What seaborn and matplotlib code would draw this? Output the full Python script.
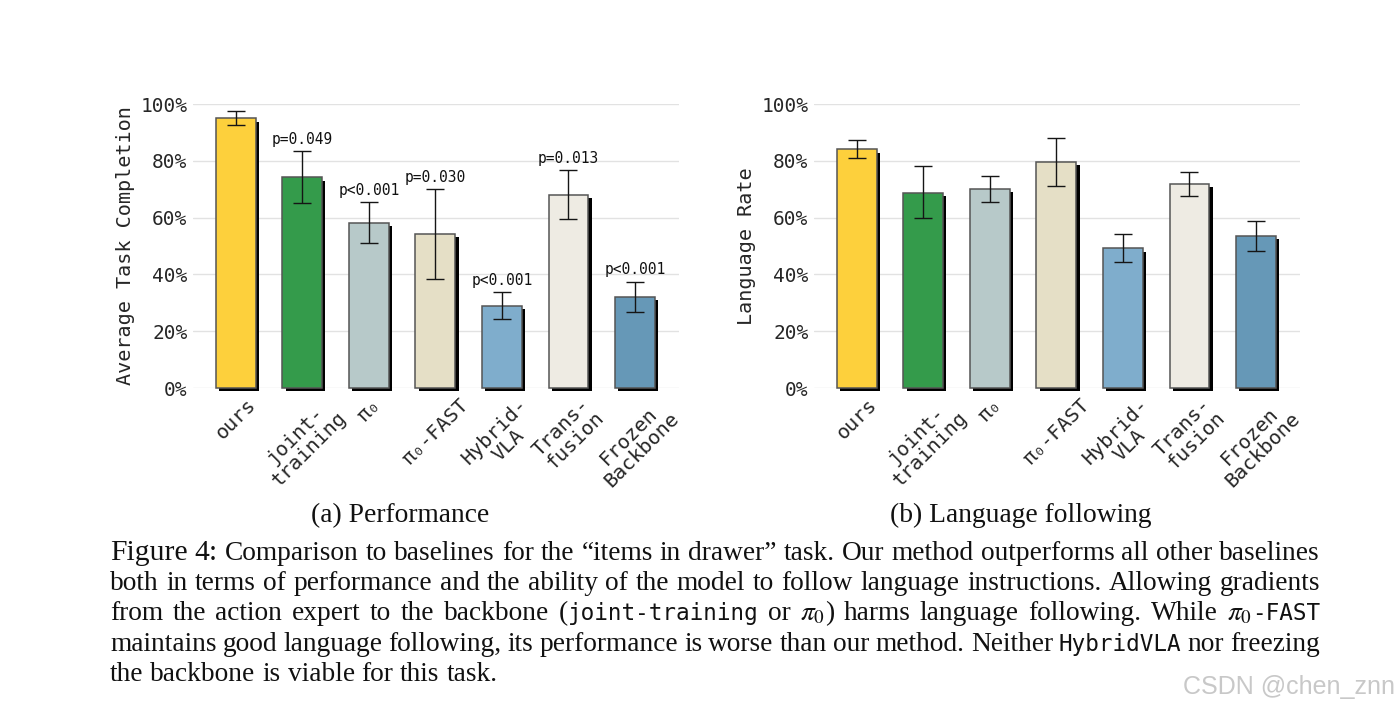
import numpy as np
import pandas as pd
import matplotlib
matplotlib.use("Agg")
import matplotlib.pyplot as plt
import matplotlib.patheffects as pe
import seaborn as sns

# ---------------- data ----------------
keys = ["ours", "joint", "pi0", "fast", "hybrid", "trans", "frozen"]
tick_labels = ["ours", "joint-\ntraining", "π₀", "π₀-FAST",
               "Hybrid-\nVLA", "Trans-\nfusion", "Frozen\nBackbone"]
bar_colors = ["#FDD03C", "#349B4B", "#B7C9C9", "#E5DFC6",
              "#7FADCC", "#EEEBE3", "#6698B7"]

perf_mean = [95.0, 74.2, 58.2, 54.2, 29.0, 68.1, 32.1]
perf_low = [92.6, 65.3, 50.9, 38.3, 24.3, 59.6, 26.8]
perf_high = [97.6, 83.3, 65.5, 70.1, 33.9, 76.8, 37.5]
perf_p = ["", "p=0.049", "p<0.001", "p=0.030", "p<0.001", "p=0.013", "p<0.001"]

lang_mean = [84.0, 68.8, 70.1, 79.6, 49.2, 71.8, 53.5]
lang_low = [81.0, 59.9, 65.5, 71.0, 44.4, 67.7, 48.2]
lang_high = [87.2, 78.2, 74.8, 88.0, 54.2, 76.0, 58.8]

y_ticks = [0, 20, 40, 60, 80, 100]
y_tick_labels = ["0%", "20%", "40%", "60%", "80%", "100%"]

subcaptions = ["(a) Performance", "(b) Language following"]
watermark = "CSDN @chen_znn"

# ---------------- style ----------------
sns.set_style("white")
plt.rcParams["font.family"] = ["DejaVu Sans Mono", "DejaVu Sans"]
plt.rcParams["mathtext.fontset"] = "stix"

W, H = 1400, 710
fig = plt.figure(figsize=(14, 7.1), dpi=100)


def axrect(x0, x1, ytop, ybot):
    return [x0 / W, 1 - ybot / H, (x1 - x0) / W, (ybot - ytop) / H]


ax1 = fig.add_axes(axrect(193, 679, 104, 388))
ax2 = fig.add_axes(axrect(814, 1300, 104, 388))

palette = dict(zip(keys, bar_colors))


def panel(ax, means, low, high, ylabel, plabels=None):
    df = pd.DataFrame({"cat": keys, "val": means})
    sns.barplot(data=df, x="cat", y="val", hue="cat", palette=palette,
                order=keys, hue_order=keys, width=0.6, edgecolor="#555555",
                linewidth=1.1, saturation=1.0, legend=False, ax=ax, zorder=3)
    for bar in ax.patches:
        bar.set_clip_on(False)
        bar.set_path_effects([
            pe.SimplePatchShadow(offset=(2.4, -2.4), shadow_rgbFace="black", alpha=1.0),
            pe.Normal()])
    m = np.array(means)
    lo = np.array(low)
    hi = np.array(high)
    x = np.arange(len(keys))
    ax.errorbar(x, m, yerr=[m - lo, hi - m], fmt="none", ecolor="#151515",
                elinewidth=1.0, capsize=6.5, capthick=1.0, zorder=6)
    if plabels is not None:
        for i, p in enumerate(plabels):
            if p:
                ax.annotate(p, (x[i], hi[i]), xytext=(0, 3), textcoords="offset points",
                            ha="center", va="bottom", fontsize=10.5, color="#111111")
    ax.set_xlim(-0.64, 6.66)
    ax.set_ylim(0, 100)
    ax.set_yticks(y_ticks)
    ax.set_yticklabels(y_tick_labels, fontsize=14)
    ax.set_xticks(x)
    ax.set_xticklabels(tick_labels, rotation=45, fontsize=14.5, linespacing=1.0)
    ax.grid(axis="y", color="#e2e2e2", lw=1.0)
    ax.grid(axis="x", visible=False)
    ax.set_axisbelow(True)
    ax.set_xlabel("")
    ax.set_ylabel(ylabel, fontsize=14.5)
    ax.yaxis.set_label_coords(-0.12, 0.5)
    for s in ax.spines.values():
        s.set_visible(False)
    ax.tick_params(axis="y", length=0, pad=4)
    ax.tick_params(axis="x", length=0, pad=5)


panel(ax1, perf_mean, perf_low, perf_high, "Average Task Completion", perf_p)
panel(ax2, lang_mean, lang_low, lang_high, "Language Rate")

# ---------------- captions ----------------
serif = dict(family="Liberation Serif", size=19.7)
serif_big = dict(family="Liberation Serif", size=21.3)
mono = dict(family="DejaVu Sans Mono", size=16.3)
pi = dict(family="Liberation Serif", size=19.7, math_fontfamily="stix")
sub = dict(family="Liberation Serif", size=19.8)

fig.text(400 / W, 1 - 522 / H, subcaptions[0], ha="center", va="baseline", **sub, color="#111")
fig.text(1021 / W, 1 - 522 / H, subcaptions[1], ha="center", va="baseline", **sub, color="#111")


def words(s, props=serif):
    return [[(w, props)] for w in s.split()]


caption_lines = [
    [[("Figure", serif_big)], [("4:", serif_big)]] + words(
        "Comparison to baselines for the \u201citems in drawer\u201d task. Our method outperforms all other baselines"),
    words("both in terms of performance and the ability of the model to follow language instructions. Allowing gradients"),
    words("from the action expert to the backbone")
    + [[("(", serif), ("joint-training", mono)]] + words("or")
    + [[(r"$\pi_0$", pi), (")", serif)]]
    + words("harms language following. While")
    + [[(r"$\pi_0$", pi), ("-FAST", mono)]],
    words("maintains good language following, its performance is worse than our method. Neither")
    + [[("HybridVLA", mono)]] + words("nor freezing"),
    words("the backbone is viable for this task."),
]
baselines = [560, 590, 620, 651, 681]
X0, X1 = 110, 1320

renderer = fig.canvas.get_renderer()


def measure(s, props):
    t = fig.text(0, 0, s, **props)
    w = t.get_window_extent(renderer).width
    t.remove()
    return w


space_nat = measure("a a", serif) - measure("aa", serif)

for li, (line, yb) in enumerate(zip(caption_lines, baselines)):
    widths = [[measure(s, p) for s, p in wd] for wd in line]
    total = sum(sum(w) for w in widths)
    gaps = len(line) - 1
    justify = li < len(caption_lines) - 1
    gap = (X1 - X0 - total) / gaps if justify else space_nat
    x = X0
    for wd, ws in zip(line, widths):
        for (s, p), w in zip(wd, ws):
            fig.text(x / W, 1 - yb / H, s, ha="left", va="baseline", color="#111", **p)
            x += w
        x += gap

fig.text(1395 / W, 1 - 694 / H, watermark, ha="right", va="baseline",
         family="Liberation Sans", size=18, color="#c8c8c8")

fig.savefig("out.png", dpi=100)
